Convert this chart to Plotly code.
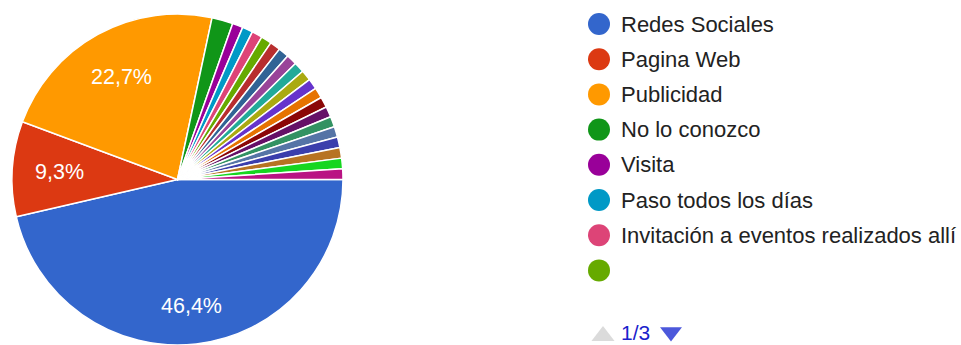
import math
import plotly.graph_objects as go

# Survey answers: how respondents heard about the place (97 responses)
labels = [
    "Redes Sociales", "Pagina Web", "Publicidad", "No lo conozco", "Visita",
    "Paso todos los días", "Invitación a eventos realizados allí", " ",
    "Respuesta 9", "Respuesta 10", "Respuesta 11", "Respuesta 12", "Respuesta 13",
    "Respuesta 14", "Respuesta 15", "Respuesta 16", "Respuesta 17", "Respuesta 18",
    "Respuesta 19", "Respuesta 20", "Respuesta 21", "Respuesta 22", "Respuesta 23",
]
counts = [45, 9, 22, 2] + [1] * 19
colors = [
    "#3366cc", "#dc3912", "#ff9900", "#109618", "#990099", "#0099c6", "#dd4477",
    "#66aa00", "#b82e2e", "#316395", "#994499", "#22aa99", "#aaaa11", "#6633cc",
    "#e67300", "#8b0707", "#651067", "#329262", "#5574a6", "#3b3eac", "#b77322",
    "#16d620", "#b91383",
]
legend_page = "1/3"
legend_rows = 8
min_label_share = 0.05  # slices below this share get no percentage label

W, H = 961, 345
FONT = "Arial, 'Liberation Sans', sans-serif"

# Pie geometry in pixels
CX, CY, R = 177.5, 179.5, 165.5
START_DEG = 90  # first slice starts at 3 o'clock, going clockwise
label_radius = [0.77, 0.715, 0.705]  # radial placement of the labelled slices

fig = go.Figure()
fig.add_trace(go.Pie(
    labels=labels,
    values=counts,
    textinfo="none",
    marker=dict(colors=colors, line=dict(color="white", width=1.5)),
    sort=False,
    direction="clockwise",
    rotation=START_DEG,
    showlegend=False,
    domain=dict(x=[(CX - R) / W, (CX + R) / W], y=[0, 1 - (CY - R) / H]),
))

# Percentage labels placed along each large slice's mid-angle
total = sum(counts)
cum = 0
k = 0
for c in counts:
    share = c / total
    mid = START_DEG + 360 * (cum + c / 2) / total
    cum += c
    if share < min_label_share:
        continue
    a = math.radians(mid)
    rr = label_radius[k] * R
    k += 1
    x = CX + rr * math.sin(a)
    y = CY - rr * math.cos(a)
    txt = f"{share * 100:.1f}%".replace(".", ",")
    fig.add_annotation(x=x, y=y, xref="x", yref="y", text=txt, showarrow=False,
                       xanchor="center", yanchor="middle",
                       font=dict(size=21.5, color="white", family=FONT))

# Legend (first page) drawn on an overlay pixel axis
leg_y = [24 + 35.2 * i for i in range(legend_rows)]
fig.add_trace(go.Scatter(
    x=[599] * legend_rows, y=leg_y, mode="markers",
    marker=dict(size=22, color=colors[:legend_rows], line=dict(width=0)),
    xaxis="x", yaxis="y", showlegend=False, hoverinfo="skip",
))
for name, y in zip(labels[:legend_rows], leg_y):
    fig.add_annotation(x=619, y=y, xref="x", yref="y", text=name.strip(),
                       showarrow=False, xanchor="left", yanchor="middle",
                       font=dict(size=22, color="#222222", family=FONT))

# Pager arrows and page indicator
fig.add_trace(go.Scatter(
    x=[603, 671], y=[336, 332], mode="markers",
    marker=dict(size=[20, 19], symbol=["triangle-up", "triangle-down"],
                color=["#cccccc", "#0011cc"], line=dict(width=0)),
    xaxis="x", yaxis="y", showlegend=False, hoverinfo="skip",
))
fig.add_annotation(x=635.5, y=332, xref="x", yref="y", text=legend_page,
                   showarrow=False, xanchor="center", yanchor="middle",
                   font=dict(size=21, color="#1a22cc", family=FONT))

fig.update_layout(
    width=W, height=H,
    margin=dict(l=0, r=0, t=0, b=0),
    paper_bgcolor="white", plot_bgcolor="rgba(0,0,0,0)",
    xaxis=dict(range=[0, W], visible=False, domain=[0, 1], fixedrange=True),
    yaxis=dict(range=[H, 0], visible=False, domain=[0, 1], fixedrange=True),
)

fig.write_html("out.html")
